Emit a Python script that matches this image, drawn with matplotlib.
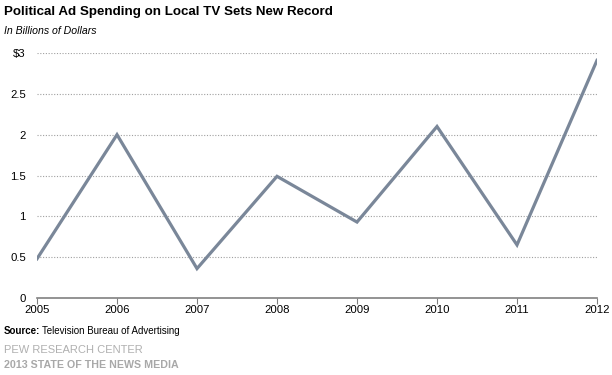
import matplotlib as mpl
mpl.use('Agg')
import matplotlib.pyplot as plt

years = [2005, 2006, 2007, 2008, 2009, 2010, 2011, 2012]
spending = [0.48, 2.0, 0.36, 1.49, 0.93, 2.1, 0.65, 2.91]
ytick_vals = [0, 0.5, 1, 1.5, 2, 2.5, 3]
ytick_labels = ["0", "0.5", "1", "1.5", "2", "2.5", "$3"]

plt.rcParams['font.family'] = ['Liberation Sans', 'DejaVu Sans']

fig = plt.figure(figsize=(6.12, 3.75), dpi=100)
ax = fig.add_axes([37 / 612, 77 / 375, 560 / 612, 245 / 375])

ax.plot(years, spending, color="#7a8799", lw=2.3, solid_joinstyle="miter", zorder=3)

ax.set_xlim(2005, 2012)
ax.set_ylim(0, 3)
ax.set_xticks(years)
ax.set_xticklabels([str(y) for y in years], fontsize=8.2)
ax.set_yticks(ytick_vals)
ax.set_yticklabels(ytick_labels, fontsize=8.2)
ax.tick_params(axis="y", length=0, pad=8)
ax.tick_params(axis="x", length=4, color="#808080", pad=1)

for v in ytick_vals[1:]:
    ax.axhline(v, color="#a0a0a0", lw=0.8, ls=(0, (1, 1.5)), zorder=1)

for s in ["top", "right", "left"]:
    ax.spines[s].set_visible(False)
ax.spines["bottom"].set_color("#808080")
ax.spines["bottom"].set_linewidth(1.2)
ax.set_facecolor("none")

fig.text(4 / 612, 1 - 12 / 375, "Political Ad Spending on Local TV Sets New Record",
         fontsize=9.6, fontweight="bold", va="center")
fig.text(4 / 612, 1 - 31 / 375, "In Billions of Dollars", fontsize=7.6,
         style="italic", va="center")
fig.text(4 / 612, 1 - 331 / 375, "Source:", fontsize=7, fontweight="bold", va="center")
fig.text(42 / 612, 1 - 331 / 375, "Television Bureau of Advertising", fontsize=7, va="center")
fig.text(4 / 612, 1 - 350 / 375, "PEW RESEARCH CENTER", fontsize=8, color="#b0b0b0", va="center")
fig.text(4 / 612, 1 - 365 / 375, "2013 STATE OF THE NEWS MEDIA", fontsize=7.7,
         color="#a8a8a8", fontweight="bold", va="center")

fig.savefig("out.png", dpi=100)
